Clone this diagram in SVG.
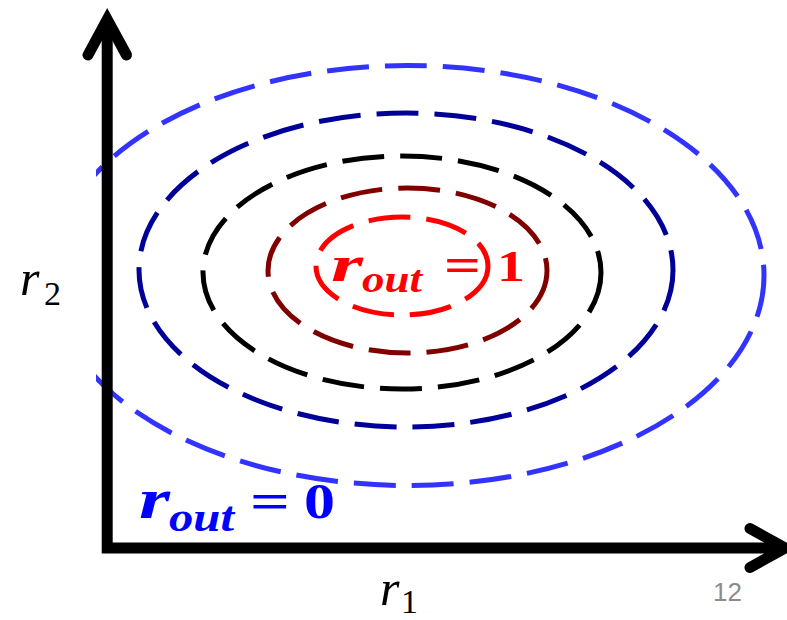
<svg xmlns="http://www.w3.org/2000/svg" width="787" height="620" viewBox="0 0 787 620">
  <style>
    .ring { fill: none; stroke-width: 5; stroke-dasharray: 42 16; }
    .axis { fill: none; stroke: #000; stroke-width: 11; }
    .m { font-family: "Liberation Serif", "DejaVu Serif", serif; }
    .it { font-style: italic; }
    .b { font-weight: bold; }
  </style>
  <defs>
    <clipPath id="clipRight">
      <rect x="96" y="0" width="691" height="620"/>
    </clipPath>
  </defs>
  <rect width="787" height="620" fill="#fff"/>

  <g id="contours">
    <g id="ring-outer" clip-path="url(#clipRight)">
      <ellipse class="ring" cx="407.5" cy="275.5" rx="356.5" ry="210" stroke="#3333FF"/>
    </g>
    <g id="ring-2"><ellipse class="ring" cx="406" cy="270" rx="267" ry="157" stroke="#000099"/></g>
    <g id="ring-3"><ellipse class="ring" cx="402" cy="272.5" rx="199" ry="116.5" stroke="#000000"/></g>
    <g id="ring-4"><ellipse class="ring" cx="407.5" cy="270.5" rx="139.5" ry="82.5" stroke="#800000"/></g>
    <g id="ring-inner"><ellipse class="ring" cx="402" cy="266" rx="86" ry="49" stroke="#FF0000"/></g>
  </g>

  <g id="axes">
    <polyline class="axis" points="107.2,20 107.2,548 785,548" stroke-linejoin="miter"/>
    <polyline class="axis" points="88,55 107.2,19.5 126.5,55" stroke-linejoin="miter" stroke-linecap="round"/>
    <polyline class="axis" points="750,528.5 785,548 750,567.5" stroke-linejoin="miter" stroke-linecap="round"/>
  </g>

  <g id="labels">
    <text class="m it" x="20" y="295" font-size="50" fill="#000">r</text>
    <text class="m" x="44" y="305" font-size="34" fill="#000">2</text>
    <text class="m it" x="380" y="605" font-size="50" fill="#000">r</text>
    <text class="m" x="401" y="613" font-size="34" fill="#000">1</text>

    <g id="label-inner" fill="#FF0000">
      <text class="m it b" x="331" y="281" font-size="50" textLength="32" lengthAdjust="spacingAndGlyphs">r</text>
      <text class="m it b" x="362" y="292" font-size="38" textLength="60" lengthAdjust="spacingAndGlyphs">out</text>
      <text class="m b" x="444" y="281" font-size="48" textLength="37" lengthAdjust="spacingAndGlyphs">=</text>
      <text class="m b" x="497" y="281" font-size="44" textLength="28" lengthAdjust="spacingAndGlyphs">1</text>
    </g>
    <g id="label-outer" fill="#0000FF">
      <text class="m it b" x="139" y="518" font-size="56" textLength="31" lengthAdjust="spacingAndGlyphs">r</text>
      <text class="m it b" x="169" y="531" font-size="42" textLength="65" lengthAdjust="spacingAndGlyphs">out</text>
      <text class="m b" x="250" y="518" font-size="50" textLength="40" lengthAdjust="spacingAndGlyphs">=</text>
      <text class="m b" x="304" y="518" font-size="50" textLength="31" lengthAdjust="spacingAndGlyphs">0</text>
    </g>
    <text x="713" y="601" font-family="Liberation Sans, Arial, sans-serif" font-size="26" fill="#8C8C8C">12</text>
  </g>
</svg>
